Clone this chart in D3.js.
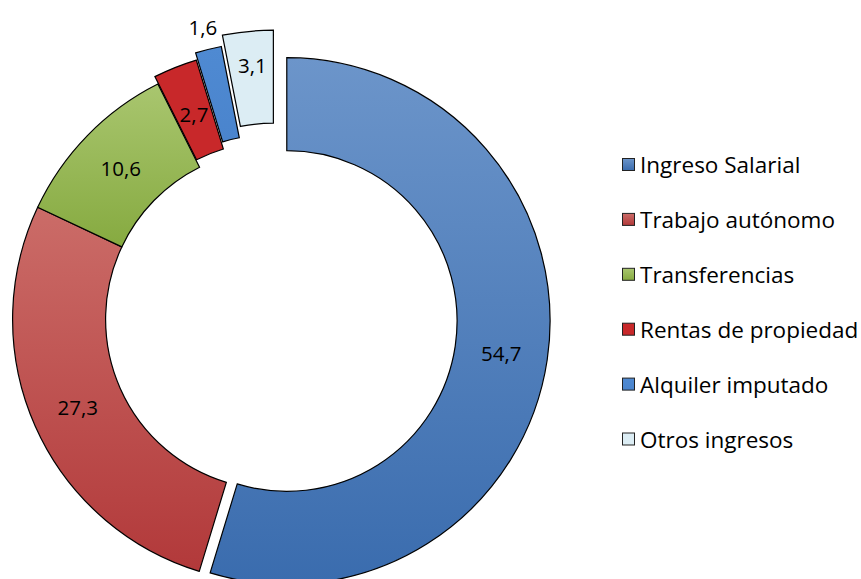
<!DOCTYPE html>
<html><head><meta charset="utf-8">
<script src="https://cdn.jsdelivr.net/npm/d3@7"></script>
<style>body{margin:0;background:#fff}svg{display:block}</style>
</head><body>
<svg id="c" width="861" height="579"></svg>
<script>
const categories = ["Ingreso Salarial","Trabajo autónomo","Transferencias","Rentas de propiedad","Alquiler imputado","Otros ingresos"];
const values = [54.7, 27.3, 10.6, 2.7, 1.6, 3.1];
const labels = ["54,7","27,3","10,6","2,7","1,6","3,1"];

// style config
const explode = [11, 0, 0, 8, 15, 26];
const colTop = ["#6c95ca","#cb6c68","#a9c66f","#c8282a","#4f8ad2","#dcedf4"];
const colBot = ["#3a6cae","#b2393a","#86aa40","#c8282a","#4a84cd","#dcedf4"];
const font = "'Open Sans', 'Noto Sans', sans-serif";

const svg = d3.select("#c");
const cx = 275.9, cy = 319.4, R = 263.3, r = 170.3;
const defs = svg.append("defs");
categories.forEach((c,i)=>{
  const g = defs.append("linearGradient").attr("id","g"+i).attr("x1",0).attr("y1",0).attr("x2",0).attr("y2",1);
  g.append("stop").attr("offset","0").attr("stop-color",colTop[i]);
  g.append("stop").attr("offset","1").attr("stop-color",colBot[i]);
});

const pie = d3.pie().sort(null).value(d=>d)(values);
const arc = d3.arc().innerRadius(r).outerRadius(R);
const root = svg.append("g").attr("transform",`translate(${cx},${cy})`);
pie.forEach((p,i)=>{
  const m = (p.startAngle+p.endAngle)/2;
  const dx = Math.sin(m)*explode[i], dy = -Math.cos(m)*explode[i];
  const g = root.append("g").attr("transform",`translate(${dx},${dy})`);
  g.append("path").attr("d",arc(p)).attr("fill",`url(#g${i})`).attr("stroke","#000").attr("stroke-width",1.2);
  let lr = (R+r)/2, ly = 0;
  if (i===4) lr = R + 23;
  if (i===5) ly = -13;
  if (i===3) lr = (R+r)/2 - 4;
  const tx = Math.sin(m)*lr, ty = -Math.cos(m)*lr + ly;
  g.append("text").attr("x",tx).attr("y",ty).attr("text-anchor","middle").attr("dominant-baseline","central")
   .attr("font-family",font).attr("font-size",20.5).attr("fill","#000").text(labels[i]);
});

const leg = svg.append("g");
const y0 = 164.5, step = 54.9;
categories.forEach((c,i)=>{
  const y = y0 + i*step;
  leg.append("rect").attr("x",622.5).attr("y",y-6).attr("width",12).attr("height",12)
    .attr("fill",`url(#g${i})`).attr("stroke","#222").attr("stroke-width",1);
  leg.append("text").attr("x",640).attr("y",y).attr("dominant-baseline","central")
    .attr("font-family",font).attr("font-size",22.5).attr("textLength", null).attr("fill","#000").text(c);
});
</script>
</body></html>
